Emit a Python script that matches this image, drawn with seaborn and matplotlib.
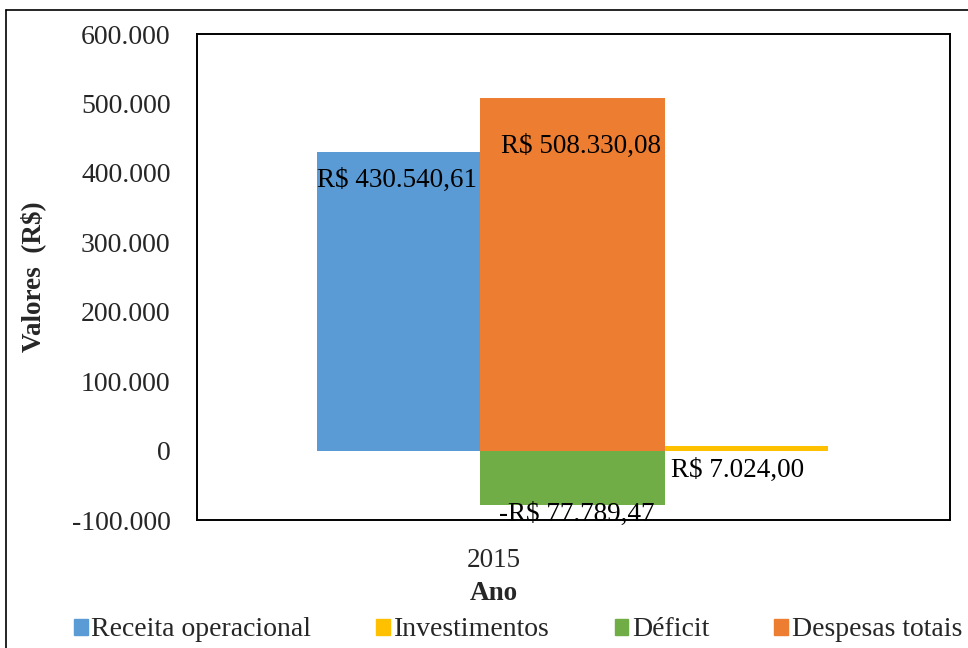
import matplotlib
matplotlib.use("Agg")
import matplotlib.pyplot as plt
from matplotlib.lines import Line2D
import seaborn as sns
import pandas as pd

# ---- data ----
series = ["Receita operacional", "Investimentos", "Déficit", "Despesas totais"]
values = [430540.61, 7024.00, -77789.47, 508330.08]
slots = ["s0", "s2", "s1", "s1"]          # horizontal slot each bar occupies
labels = ["R$ 430.540,61", "R$ 7.024,00", "-R$ 77.789,47", "R$ 508.330,08"]
colors = ["#5B9BD5", "#FFC000", "#70AD47", "#ED7D31"]
year_label = "2015"
y_ticks = [-100000, 0, 100000, 200000, 300000, 400000, 500000, 600000]
y_tick_labels = ["-100.000", "0", "100.000", "200.000", "300.000", "400.000", "500.000", "600.000"]

df = pd.DataFrame({"slot": slots, "valor": values, "serie": series})

sns.set_theme(style="white")
plt.rcParams["font.family"] = ["Liberation Serif", "DejaVu Serif"]
FS = 19.5

fig = plt.figure(figsize=(9.68, 6.48), dpi=100)
ax = fig.add_axes([0.2035, 0.1975, 0.7775, 0.75])

sns.barplot(data=df, x="slot", y="valor", hue="serie", hue_order=series,
            order=["s0", "s1", "s2"], palette=colors, dodge=False, width=1.0,
            saturation=1, errorbar=None, ax=ax, legend=False, linewidth=0)

# bar widths per slot (middle slot slightly wider, as in the reference)
slot_width = {0: 0.937, 1: 1.063, 2: 0.937}
for cont in ax.containers:
    for p in cont.patches:
        cx = p.get_x() + p.get_width() / 2
        w = slot_width[int(round(cx))]
        p.set_width(w)
        p.set_x(cx - w / 2)

ax.set_xlim(-1.158, 3.17)
ax.set_ylim(-100000, 600000)
ax.set_yticks(y_ticks)
ax.set_yticklabels(y_tick_labels, fontsize=20)
ax.set_xticks([0.549])
ax.set_xticklabels([year_label], fontsize=FS)
ax.tick_params(axis="both", length=0)
ax.tick_params(axis="y", pad=19)
ax.tick_params(axis="x", pad=20)
ax.set_xlabel("Ano", fontsize=FS, fontweight="bold")
ax.xaxis.set_label_coords((494 - 197) / 753, -(593 - 520) / 486, transform=ax.transAxes)
ax.xaxis.label.set_va("center")
ax.set_ylabel("Valores  (R$)", fontsize=FS, fontweight="bold")
ax.yaxis.set_label_coords(-(197 - 33) / 753, 0.5, transform=ax.transAxes)
ax.yaxis.label.set_va("center")
for s in ax.spines.values():
    s.set_visible(True)
    s.set_color("black")
    s.set_linewidth(1.4)

# data labels, positioned from each bar's geometry
offsets = {
    "Receita operacional": (-1, -11.5, "top"),
    "Investimentos": (-6, -9, "top"),
    "Déficit": (3, 2, "top"),
    "Despesas totais": (6, -26, "top"),
}
for cont, name, lab in zip(ax.containers, series, labels):
    for p in cont.patches:
        h = p.get_height()
        if h == 0 or pd.isna(h):
            continue
        cx = p.get_x() + p.get_width() / 2
        top = p.get_y() + h
        dx, dy, va = offsets[name]
        ax.annotate(lab, (cx, top), xytext=(dx, dy), textcoords="offset points",
                    ha="center", va=va, fontsize=FS, color="black")

# legend
handles = [plt.Rectangle((0, 0), 1, 1, color=c) for c in colors]
fig.legend(handles, series, loc="center", bbox_to_anchor=(0.535, 1 - 630 / 648),
           ncol=4, frameon=False, fontsize=20, handlelength=0.5, handleheight=0.5,
           handletextpad=0.12, columnspacing=2.35, borderaxespad=0)

# title (cut off at top in the reference)
fig.text(0.513, 1.012, "água", ha="center", va="baseline", fontsize=FS)

# outer chart-area border
fig.add_artist(Line2D([5.5 / 968, 5.5 / 968], [0, 1 - 10 / 648], transform=fig.transFigure,
                      color="black", lw=1.2))
fig.add_artist(Line2D([5.5 / 968, 1], [1 - 10 / 648, 1 - 10 / 648], transform=fig.transFigure,
                      color="black", lw=1.2))

fig.savefig("out.png", dpi=100)
